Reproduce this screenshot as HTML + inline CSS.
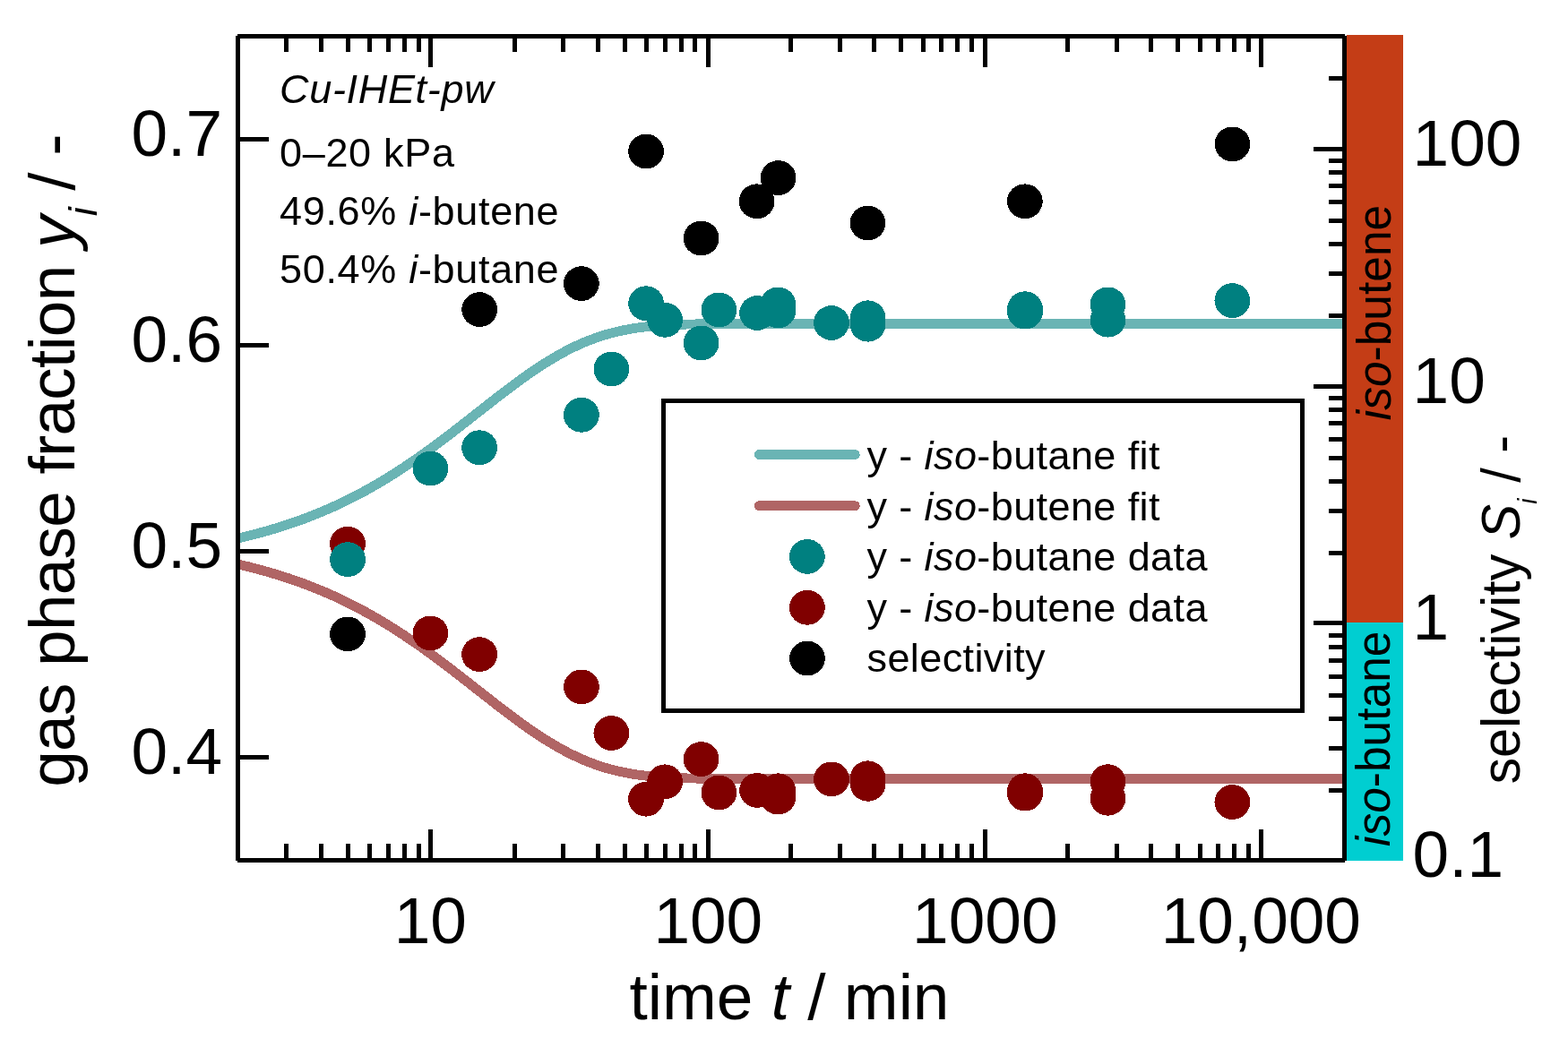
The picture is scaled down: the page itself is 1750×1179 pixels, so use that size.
<!DOCTYPE html>
<html lang="en">
<head>
<meta charset="utf-8">
<title>Cu-IHEt-pw gas phase fraction and selectivity over time</title>
<style>
html,body{margin:0;padding:0;background:#fff;}
body{width:1750px;height:1179px;overflow:hidden;}
svg{display:block;}
text{font-family:"Liberation Sans",sans-serif;fill:#000;white-space:pre;}
</style>
</head>
<body>
<svg width="1750" height="1179" viewBox="0 0 1750 1179" role="img" aria-label="Gas phase fraction and selectivity versus time for Cu-IHEt-pw">
<defs><clipPath id="plot"><rect x="265.5" y="40" width="1235" height="921"/></clipPath></defs>
<rect x="0" y="0" width="1750" height="1179" fill="#fff"/>
<g shape-rendering="crispEdges">
<rect x="1503" y="39" width="63" height="656" fill="#C43D16"/>
<rect x="1503" y="695" width="63" height="266" fill="#00CED1"/>
</g>
<g fill="none" stroke-width="10.8" stroke-linecap="butt" stroke-linejoin="round" clip-path="url(#plot)" shape-rendering="crispEdges">
<path d="M265.5,601.03 L268.6,600.32 L271.7,599.59 L274.8,598.85 L277.9,598.09 L280.9,597.31 L284.0,596.52 L287.1,595.71 L290.2,594.88 L293.3,594.04 L296.4,593.18 L299.5,592.30 L302.6,591.40 L305.6,590.48 L308.7,589.55 L311.8,588.59 L314.9,587.62 L318.0,586.62 L321.1,585.61 L324.2,584.57 L327.2,583.52 L330.3,582.44 L333.4,581.35 L336.5,580.23 L339.6,579.09 L342.7,577.92 L345.8,576.74 L348.9,575.53 L351.9,574.30 L355.0,573.05 L358.1,571.77 L361.2,570.47 L364.3,569.15 L367.4,567.80 L370.5,566.43 L373.6,565.03 L376.6,563.61 L379.7,562.16 L382.8,560.69 L385.9,559.19 L389.0,557.67 L392.1,556.12 L395.2,554.55 L398.3,552.95 L401.4,551.33 L404.4,549.67 L407.5,548.00 L410.6,546.30 L413.7,544.57 L416.8,542.81 L419.9,541.03 L423.0,539.22 L426.1,537.39 L429.1,535.53 L432.2,533.65 L435.3,531.74 L438.4,529.81 L441.5,527.85 L444.6,525.86 L447.7,523.85 L450.8,521.82 L453.8,519.76 L456.9,517.68 L460.0,515.58 L463.1,513.45 L466.2,511.30 L469.3,509.13 L472.4,506.94 L475.4,504.73 L478.5,502.50 L481.6,500.25 L484.7,497.98 L487.8,495.69 L490.9,493.39 L494.0,491.07 L497.1,488.73 L500.1,486.38 L503.2,484.02 L506.3,481.65 L509.4,479.26 L512.5,476.87 L515.6,474.46 L518.7,472.05 L521.8,469.64 L524.9,467.21 L527.9,464.79 L531.0,462.36 L534.1,459.93 L537.2,457.50 L540.3,455.08 L543.4,452.65 L546.5,450.24 L549.5,447.83 L552.6,445.42 L555.7,443.03 L558.8,440.65 L561.9,438.28 L565.0,435.93 L568.1,433.60 L571.2,431.28 L574.2,428.98 L577.3,426.71 L580.4,424.45 L583.5,422.23 L586.6,420.03 L589.7,417.85 L592.8,415.71 L595.9,413.60 L599.0,411.52 L602.0,409.48 L605.1,407.48 L608.2,405.51 L611.3,403.58 L614.4,401.69 L617.5,399.84 L620.6,398.03 L623.6,396.27 L626.7,394.56 L629.8,392.88 L632.9,391.26 L636.0,389.68 L639.1,388.15 L642.2,386.67 L645.3,385.24 L648.4,383.86 L651.4,382.53 L654.5,381.24 L657.6,380.01 L660.7,378.83 L663.8,377.69 L666.9,376.61 L670.0,375.58 L673.0,374.59 L676.1,373.65 L679.2,372.76 L682.3,371.91 L685.4,371.12 L688.5,370.36 L691.6,369.65 L694.7,368.98 L697.8,368.35 L700.8,367.77 L703.9,367.22 L707.0,366.71 L710.1,366.23 L713.2,365.79 L716.3,365.38 L719.4,365.00 L722.5,364.66 L725.5,364.34 L728.6,364.05 L731.7,363.78 L734.8,363.54 L737.9,363.32 L741.0,363.12 L744.1,362.94 L747.1,362.77 L750.2,362.63 L753.3,362.50 L756.4,362.38 L759.5,362.28 L762.6,362.19 L765.7,362.11 L768.8,362.04 L771.9,361.98 L774.9,361.93 L778.0,361.88 L781.1,361.84 L784.2,361.80 L787.3,361.77 L790.4,361.75 L793.5,361.73 L796.5,361.71 L799.6,361.69 L802.7,361.68 L805.8,361.67 L808.9,361.66 L812.0,361.66 L815.1,361.65 L818.2,361.64 L821.2,361.64 L824.3,361.64 L827.4,361.63 L830.5,361.63 L833.6,361.63 L836.7,361.63 L839.8,361.63 L842.9,361.63 L846.0,361.63 L849.0,361.63 L852.1,361.63 L855.2,361.63 L858.3,361.63 L861.4,361.63 L864.5,361.63 L867.6,361.63 L870.6,361.63 L873.7,361.63 L876.8,361.63 L879.9,361.63 L883.0,361.63 L886.1,361.63 L889.2,361.63 L892.3,361.63 L895.4,361.63 L898.4,361.63 L901.5,361.63 L904.6,361.63 L907.7,361.63 L910.8,361.63 L913.9,361.63 L917.0,361.63 L920.0,361.63 L923.1,361.63 L926.2,361.63 L929.3,361.63 L932.4,361.63 L935.5,361.63 L938.6,361.63 L941.7,361.63 L944.8,361.63 L947.8,361.63 L950.9,361.63 L954.0,361.63 L957.1,361.63 L960.2,361.63 L963.3,361.63 L966.4,361.63 L969.5,361.63 L972.5,361.63 L975.6,361.63 L978.7,361.63 L981.8,361.63 L984.9,361.63 L988.0,361.63 L991.1,361.63 L994.1,361.63 L997.2,361.63 L1000.3,361.63 L1003.4,361.63 L1006.5,361.63 L1009.6,361.63 L1012.7,361.63 L1015.8,361.63 L1018.9,361.63 L1021.9,361.63 L1025.0,361.63 L1028.1,361.63 L1031.2,361.63 L1034.3,361.63 L1037.4,361.63 L1040.5,361.63 L1043.5,361.63 L1046.6,361.63 L1049.7,361.63 L1052.8,361.63 L1055.9,361.63 L1059.0,361.63 L1062.1,361.63 L1065.2,361.63 L1068.2,361.63 L1071.3,361.63 L1074.4,361.63 L1077.5,361.63 L1080.6,361.63 L1083.7,361.63 L1086.8,361.63 L1089.9,361.63 L1093.0,361.63 L1096.0,361.63 L1099.1,361.63 L1102.2,361.63 L1105.3,361.63 L1108.4,361.63 L1111.5,361.63 L1114.6,361.63 L1117.7,361.63 L1120.7,361.63 L1123.8,361.63 L1126.9,361.63 L1130.0,361.63 L1133.1,361.63 L1136.2,361.63 L1139.3,361.63 L1142.3,361.63 L1145.4,361.63 L1148.5,361.63 L1151.6,361.63 L1154.7,361.63 L1157.8,361.63 L1160.9,361.63 L1164.0,361.63 L1167.0,361.63 L1170.1,361.63 L1173.2,361.63 L1176.3,361.63 L1179.4,361.63 L1182.5,361.63 L1185.6,361.63 L1188.7,361.63 L1191.8,361.63 L1194.8,361.63 L1197.9,361.63 L1201.0,361.63 L1204.1,361.63 L1207.2,361.63 L1210.3,361.63 L1213.4,361.63 L1216.5,361.63 L1219.5,361.63 L1222.6,361.63 L1225.7,361.63 L1228.8,361.63 L1231.9,361.63 L1235.0,361.63 L1238.1,361.63 L1241.2,361.63 L1244.2,361.63 L1247.3,361.63 L1250.4,361.63 L1253.5,361.63 L1256.6,361.63 L1259.7,361.63 L1262.8,361.63 L1265.8,361.63 L1268.9,361.63 L1272.0,361.63 L1275.1,361.63 L1278.2,361.63 L1281.3,361.63 L1284.4,361.63 L1287.5,361.63 L1290.5,361.63 L1293.6,361.63 L1296.7,361.63 L1299.8,361.63 L1302.9,361.63 L1306.0,361.63 L1309.1,361.63 L1312.2,361.63 L1315.2,361.63 L1318.3,361.63 L1321.4,361.63 L1324.5,361.63 L1327.6,361.63 L1330.7,361.63 L1333.8,361.63 L1336.9,361.63 L1340.0,361.63 L1343.0,361.63 L1346.1,361.63 L1349.2,361.63 L1352.3,361.63 L1355.4,361.63 L1358.5,361.63 L1361.6,361.63 L1364.7,361.63 L1367.7,361.63 L1370.8,361.63 L1373.9,361.63 L1377.0,361.63 L1380.1,361.63 L1383.2,361.63 L1386.3,361.63 L1389.3,361.63 L1392.4,361.63 L1395.5,361.63 L1398.6,361.63 L1401.7,361.63 L1404.8,361.63 L1407.9,361.63 L1411.0,361.63 L1414.0,361.63 L1417.1,361.63 L1420.2,361.63 L1423.3,361.63 L1426.4,361.63 L1429.5,361.63 L1432.6,361.63 L1435.7,361.63 L1438.8,361.63 L1441.8,361.63 L1444.9,361.63 L1448.0,361.63 L1451.1,361.63 L1454.2,361.63 L1457.3,361.63 L1460.4,361.63 L1463.5,361.63 L1466.5,361.63 L1469.6,361.63 L1472.7,361.63 L1475.8,361.63 L1478.9,361.63 L1482.0,361.63 L1485.1,361.63 L1488.2,361.63 L1491.2,361.63 L1494.3,361.63 L1497.4,361.63 L1500.5,361.63" stroke="#6AB4B4"/>
<path d="M265.5,629.97 L268.6,630.68 L271.7,631.41 L274.8,632.15 L277.9,632.91 L280.9,633.69 L284.0,634.48 L287.1,635.29 L290.2,636.12 L293.3,636.96 L296.4,637.82 L299.5,638.70 L302.6,639.60 L305.6,640.52 L308.7,641.45 L311.8,642.41 L314.9,643.38 L318.0,644.38 L321.1,645.39 L324.2,646.43 L327.2,647.48 L330.3,648.56 L333.4,649.65 L336.5,650.77 L339.6,651.91 L342.7,653.08 L345.8,654.26 L348.9,655.47 L351.9,656.70 L355.0,657.95 L358.1,659.23 L361.2,660.53 L364.3,661.85 L367.4,663.20 L370.5,664.57 L373.6,665.97 L376.6,667.39 L379.7,668.84 L382.8,670.31 L385.9,671.81 L389.0,673.33 L392.1,674.88 L395.2,676.45 L398.3,678.05 L401.4,679.67 L404.4,681.33 L407.5,683.00 L410.6,684.70 L413.7,686.43 L416.8,688.19 L419.9,689.97 L423.0,691.78 L426.1,693.61 L429.1,695.47 L432.2,697.35 L435.3,699.26 L438.4,701.19 L441.5,703.15 L444.6,705.14 L447.7,707.15 L450.8,709.18 L453.8,711.24 L456.9,713.32 L460.0,715.42 L463.1,717.55 L466.2,719.70 L469.3,721.87 L472.4,724.06 L475.4,726.27 L478.5,728.50 L481.6,730.75 L484.7,733.02 L487.8,735.31 L490.9,737.61 L494.0,739.93 L497.1,742.27 L500.1,744.62 L503.2,746.98 L506.3,749.35 L509.4,751.74 L512.5,754.13 L515.6,756.54 L518.7,758.95 L521.8,761.36 L524.9,763.79 L527.9,766.21 L531.0,768.64 L534.1,771.07 L537.2,773.50 L540.3,775.92 L543.4,778.35 L546.5,780.76 L549.5,783.17 L552.6,785.58 L555.7,787.97 L558.8,790.35 L561.9,792.72 L565.0,795.07 L568.1,797.40 L571.2,799.72 L574.2,802.02 L577.3,804.29 L580.4,806.55 L583.5,808.77 L586.6,810.97 L589.7,813.15 L592.8,815.29 L595.9,817.40 L599.0,819.48 L602.0,821.52 L605.1,823.52 L608.2,825.49 L611.3,827.42 L614.4,829.31 L617.5,831.16 L620.6,832.97 L623.6,834.73 L626.7,836.44 L629.8,838.12 L632.9,839.74 L636.0,841.32 L639.1,842.85 L642.2,844.33 L645.3,845.76 L648.4,847.14 L651.4,848.47 L654.5,849.76 L657.6,850.99 L660.7,852.17 L663.8,853.31 L666.9,854.39 L670.0,855.42 L673.0,856.41 L676.1,857.35 L679.2,858.24 L682.3,859.09 L685.4,859.88 L688.5,860.64 L691.6,861.35 L694.7,862.02 L697.8,862.65 L700.8,863.23 L703.9,863.78 L707.0,864.29 L710.1,864.77 L713.2,865.21 L716.3,865.62 L719.4,866.00 L722.5,866.34 L725.5,866.66 L728.6,866.95 L731.7,867.22 L734.8,867.46 L737.9,867.68 L741.0,867.88 L744.1,868.06 L747.1,868.23 L750.2,868.37 L753.3,868.50 L756.4,868.62 L759.5,868.72 L762.6,868.81 L765.7,868.89 L768.8,868.96 L771.9,869.02 L774.9,869.07 L778.0,869.12 L781.1,869.16 L784.2,869.20 L787.3,869.23 L790.4,869.25 L793.5,869.27 L796.5,869.29 L799.6,869.31 L802.7,869.32 L805.8,869.33 L808.9,869.34 L812.0,869.34 L815.1,869.35 L818.2,869.36 L821.2,869.36 L824.3,869.36 L827.4,869.37 L830.5,869.37 L833.6,869.37 L836.7,869.37 L839.8,869.37 L842.9,869.37 L846.0,869.37 L849.0,869.37 L852.1,869.37 L855.2,869.37 L858.3,869.37 L861.4,869.37 L864.5,869.37 L867.6,869.37 L870.6,869.37 L873.7,869.37 L876.8,869.37 L879.9,869.37 L883.0,869.37 L886.1,869.37 L889.2,869.37 L892.3,869.37 L895.4,869.37 L898.4,869.37 L901.5,869.37 L904.6,869.37 L907.7,869.37 L910.8,869.37 L913.9,869.37 L917.0,869.37 L920.0,869.37 L923.1,869.37 L926.2,869.37 L929.3,869.37 L932.4,869.37 L935.5,869.37 L938.6,869.37 L941.7,869.37 L944.8,869.37 L947.8,869.37 L950.9,869.37 L954.0,869.37 L957.1,869.37 L960.2,869.37 L963.3,869.37 L966.4,869.37 L969.5,869.37 L972.5,869.37 L975.6,869.37 L978.7,869.37 L981.8,869.37 L984.9,869.37 L988.0,869.37 L991.1,869.37 L994.1,869.37 L997.2,869.37 L1000.3,869.37 L1003.4,869.37 L1006.5,869.37 L1009.6,869.37 L1012.7,869.37 L1015.8,869.37 L1018.9,869.37 L1021.9,869.37 L1025.0,869.37 L1028.1,869.37 L1031.2,869.37 L1034.3,869.37 L1037.4,869.37 L1040.5,869.37 L1043.5,869.37 L1046.6,869.37 L1049.7,869.37 L1052.8,869.37 L1055.9,869.37 L1059.0,869.37 L1062.1,869.37 L1065.2,869.37 L1068.2,869.37 L1071.3,869.37 L1074.4,869.37 L1077.5,869.37 L1080.6,869.37 L1083.7,869.37 L1086.8,869.37 L1089.9,869.37 L1093.0,869.37 L1096.0,869.37 L1099.1,869.37 L1102.2,869.37 L1105.3,869.37 L1108.4,869.37 L1111.5,869.37 L1114.6,869.37 L1117.7,869.37 L1120.7,869.37 L1123.8,869.37 L1126.9,869.37 L1130.0,869.37 L1133.1,869.37 L1136.2,869.37 L1139.3,869.37 L1142.3,869.37 L1145.4,869.37 L1148.5,869.37 L1151.6,869.37 L1154.7,869.37 L1157.8,869.37 L1160.9,869.37 L1164.0,869.37 L1167.0,869.37 L1170.1,869.37 L1173.2,869.37 L1176.3,869.37 L1179.4,869.37 L1182.5,869.37 L1185.6,869.37 L1188.7,869.37 L1191.8,869.37 L1194.8,869.37 L1197.9,869.37 L1201.0,869.37 L1204.1,869.37 L1207.2,869.37 L1210.3,869.37 L1213.4,869.37 L1216.5,869.37 L1219.5,869.37 L1222.6,869.37 L1225.7,869.37 L1228.8,869.37 L1231.9,869.37 L1235.0,869.37 L1238.1,869.37 L1241.2,869.37 L1244.2,869.37 L1247.3,869.37 L1250.4,869.37 L1253.5,869.37 L1256.6,869.37 L1259.7,869.37 L1262.8,869.37 L1265.8,869.37 L1268.9,869.37 L1272.0,869.37 L1275.1,869.37 L1278.2,869.37 L1281.3,869.37 L1284.4,869.37 L1287.5,869.37 L1290.5,869.37 L1293.6,869.37 L1296.7,869.37 L1299.8,869.37 L1302.9,869.37 L1306.0,869.37 L1309.1,869.37 L1312.2,869.37 L1315.2,869.37 L1318.3,869.37 L1321.4,869.37 L1324.5,869.37 L1327.6,869.37 L1330.7,869.37 L1333.8,869.37 L1336.9,869.37 L1340.0,869.37 L1343.0,869.37 L1346.1,869.37 L1349.2,869.37 L1352.3,869.37 L1355.4,869.37 L1358.5,869.37 L1361.6,869.37 L1364.7,869.37 L1367.7,869.37 L1370.8,869.37 L1373.9,869.37 L1377.0,869.37 L1380.1,869.37 L1383.2,869.37 L1386.3,869.37 L1389.3,869.37 L1392.4,869.37 L1395.5,869.37 L1398.6,869.37 L1401.7,869.37 L1404.8,869.37 L1407.9,869.37 L1411.0,869.37 L1414.0,869.37 L1417.1,869.37 L1420.2,869.37 L1423.3,869.37 L1426.4,869.37 L1429.5,869.37 L1432.6,869.37 L1435.7,869.37 L1438.8,869.37 L1441.8,869.37 L1444.9,869.37 L1448.0,869.37 L1451.1,869.37 L1454.2,869.37 L1457.3,869.37 L1460.4,869.37 L1463.5,869.37 L1466.5,869.37 L1469.6,869.37 L1472.7,869.37 L1475.8,869.37 L1478.9,869.37 L1482.0,869.37 L1485.1,869.37 L1488.2,869.37 L1491.2,869.37 L1494.3,869.37 L1497.4,869.37 L1500.5,869.37" stroke="#B06565"/>
</g>
<g fill="#000" shape-rendering="crispEdges">
<ellipse cx="388.05" cy="707.9" rx="19.9" ry="19.4"/>
<ellipse cx="535.2" cy="345.6" rx="19.9" ry="19.4"/>
<ellipse cx="648.9" cy="316.6" rx="19.9" ry="19.4"/>
<ellipse cx="721.1" cy="169" rx="19.9" ry="19.4"/>
<ellipse cx="782.6" cy="266" rx="19.9" ry="19.4"/>
<ellipse cx="844.6" cy="224.8" rx="19.9" ry="19.4"/>
<ellipse cx="868.6" cy="198.6" rx="19.9" ry="19.4"/>
<ellipse cx="968.5" cy="249" rx="19.9" ry="19.4"/>
<ellipse cx="1143.8" cy="224.8" rx="19.9" ry="19.4"/>
<ellipse cx="1375.5" cy="160.9" rx="19.9" ry="19.4"/>
</g>
<g fill="#800000" shape-rendering="crispEdges">
<ellipse cx="388.05" cy="607.1" rx="19.9" ry="19.4"/>
<ellipse cx="480.4" cy="706.9" rx="19.9" ry="19.4"/>
<ellipse cx="535.1" cy="730.6" rx="19.9" ry="19.4"/>
<ellipse cx="648.9" cy="766.9" rx="19.9" ry="19.4"/>
<ellipse cx="682.4" cy="818.5" rx="19.9" ry="19.4"/>
<ellipse cx="721" cy="892.2" rx="19.9" ry="19.4"/>
<ellipse cx="742.1" cy="872.8" rx="19.9" ry="19.4"/>
<ellipse cx="782.6" cy="847.6" rx="19.9" ry="19.4"/>
<ellipse cx="802.4" cy="884.9" rx="19.9" ry="19.4"/>
<ellipse cx="845.1" cy="882.4" rx="19.9" ry="19.4"/>
<ellipse cx="868.4" cy="882.8" rx="19.9" ry="19.4"/>
<ellipse cx="868.4" cy="890.1" rx="19.9" ry="19.4"/>
<ellipse cx="928" cy="869.9" rx="19.9" ry="19.4"/>
<ellipse cx="968.6" cy="868.8" rx="19.9" ry="19.4"/>
<ellipse cx="968.6" cy="875.3" rx="19.9" ry="19.4"/>
<ellipse cx="1144" cy="882.7" rx="19.9" ry="19.4"/>
<ellipse cx="1144" cy="886.1" rx="19.9" ry="19.4"/>
<ellipse cx="1236.5" cy="872.7" rx="19.9" ry="19.4"/>
<ellipse cx="1236.5" cy="891.3" rx="19.9" ry="19.4"/>
<ellipse cx="1375.4" cy="895.5" rx="19.9" ry="19.4"/>
</g>
<g fill="#008080" shape-rendering="crispEdges">
<ellipse cx="388.05" cy="624.6" rx="19.9" ry="19.4"/>
<ellipse cx="480.4" cy="523.05" rx="19.9" ry="19.4"/>
<ellipse cx="535.1" cy="499.7" rx="19.9" ry="19.4"/>
<ellipse cx="648.9" cy="463.3" rx="19.9" ry="19.4"/>
<ellipse cx="682.4" cy="412" rx="19.9" ry="19.4"/>
<ellipse cx="721.1" cy="338.7" rx="19.9" ry="19.4"/>
<ellipse cx="742.1" cy="357.3" rx="19.9" ry="19.4"/>
<ellipse cx="782.6" cy="382.9" rx="19.9" ry="19.4"/>
<ellipse cx="802.4" cy="345.9" rx="19.9" ry="19.4"/>
<ellipse cx="845.1" cy="349.5" rx="19.9" ry="19.4"/>
<ellipse cx="868.4" cy="339.9" rx="19.9" ry="19.4"/>
<ellipse cx="868.4" cy="347" rx="19.9" ry="19.4"/>
<ellipse cx="928" cy="360.5" rx="19.9" ry="19.4"/>
<ellipse cx="968.6" cy="354.8" rx="19.9" ry="19.4"/>
<ellipse cx="968.6" cy="362.2" rx="19.9" ry="19.4"/>
<ellipse cx="1144" cy="344.7" rx="19.9" ry="19.4"/>
<ellipse cx="1144" cy="348.1" rx="19.9" ry="19.4"/>
<ellipse cx="1236.5" cy="339.9" rx="19.9" ry="19.4"/>
<ellipse cx="1236.5" cy="357.2" rx="19.9" ry="19.4"/>
<ellipse cx="1375.4" cy="335.6" rx="19.9" ry="19.4"/>
</g>
<g shape-rendering="crispEdges">
<rect x="263" y="40" width="5" height="921" fill="#000"/>
<rect x="1498" y="40" width="5" height="921" fill="#000"/>
<rect x="265" y="38" width="1236" height="5" fill="#000"/>
<rect x="265" y="958" width="1236" height="5" fill="#000"/>
<rect x="317" y="40" width="5" height="18" fill="#000"/>
<rect x="317" y="942" width="5" height="19" fill="#000"/>
<rect x="356" y="40" width="5" height="18" fill="#000"/>
<rect x="356" y="942" width="5" height="19" fill="#000"/>
<rect x="386" y="40" width="5" height="18" fill="#000"/>
<rect x="386" y="942" width="5" height="19" fill="#000"/>
<rect x="410" y="40" width="5" height="18" fill="#000"/>
<rect x="410" y="942" width="5" height="19" fill="#000"/>
<rect x="431" y="40" width="5" height="18" fill="#000"/>
<rect x="431" y="942" width="5" height="19" fill="#000"/>
<rect x="449" y="40" width="5" height="18" fill="#000"/>
<rect x="449" y="942" width="5" height="19" fill="#000"/>
<rect x="465" y="40" width="5" height="18" fill="#000"/>
<rect x="465" y="942" width="5" height="19" fill="#000"/>
<rect x="478" y="40" width="5" height="35" fill="#000"/>
<rect x="478" y="926" width="5" height="35" fill="#000"/>
<rect x="572" y="40" width="5" height="18" fill="#000"/>
<rect x="572" y="942" width="5" height="19" fill="#000"/>
<rect x="626" y="40" width="5" height="18" fill="#000"/>
<rect x="626" y="942" width="5" height="19" fill="#000"/>
<rect x="665" y="40" width="5" height="18" fill="#000"/>
<rect x="665" y="942" width="5" height="19" fill="#000"/>
<rect x="695" y="40" width="5" height="18" fill="#000"/>
<rect x="695" y="942" width="5" height="19" fill="#000"/>
<rect x="719" y="40" width="5" height="18" fill="#000"/>
<rect x="719" y="942" width="5" height="19" fill="#000"/>
<rect x="740" y="40" width="5" height="18" fill="#000"/>
<rect x="740" y="942" width="5" height="19" fill="#000"/>
<rect x="758" y="40" width="5" height="18" fill="#000"/>
<rect x="758" y="942" width="5" height="19" fill="#000"/>
<rect x="773" y="40" width="5" height="18" fill="#000"/>
<rect x="773" y="942" width="5" height="19" fill="#000"/>
<rect x="788" y="40" width="5" height="35" fill="#000"/>
<rect x="788" y="926" width="5" height="35" fill="#000"/>
<rect x="880" y="40" width="5" height="18" fill="#000"/>
<rect x="880" y="942" width="5" height="19" fill="#000"/>
<rect x="935" y="40" width="5" height="18" fill="#000"/>
<rect x="935" y="942" width="5" height="19" fill="#000"/>
<rect x="973" y="40" width="5" height="18" fill="#000"/>
<rect x="973" y="942" width="5" height="19" fill="#000"/>
<rect x="1003" y="40" width="5" height="18" fill="#000"/>
<rect x="1003" y="942" width="5" height="19" fill="#000"/>
<rect x="1028" y="40" width="5" height="18" fill="#000"/>
<rect x="1028" y="942" width="5" height="19" fill="#000"/>
<rect x="1048" y="40" width="5" height="18" fill="#000"/>
<rect x="1048" y="942" width="5" height="19" fill="#000"/>
<rect x="1066" y="40" width="5" height="18" fill="#000"/>
<rect x="1066" y="942" width="5" height="19" fill="#000"/>
<rect x="1082" y="40" width="5" height="18" fill="#000"/>
<rect x="1082" y="942" width="5" height="19" fill="#000"/>
<rect x="1097" y="40" width="5" height="35" fill="#000"/>
<rect x="1097" y="926" width="5" height="35" fill="#000"/>
<rect x="1189" y="40" width="5" height="18" fill="#000"/>
<rect x="1189" y="942" width="5" height="19" fill="#000"/>
<rect x="1244" y="40" width="5" height="18" fill="#000"/>
<rect x="1244" y="942" width="5" height="19" fill="#000"/>
<rect x="1282" y="40" width="5" height="18" fill="#000"/>
<rect x="1282" y="942" width="5" height="19" fill="#000"/>
<rect x="1312" y="40" width="5" height="18" fill="#000"/>
<rect x="1312" y="942" width="5" height="19" fill="#000"/>
<rect x="1337" y="40" width="5" height="18" fill="#000"/>
<rect x="1337" y="942" width="5" height="19" fill="#000"/>
<rect x="1357" y="40" width="5" height="18" fill="#000"/>
<rect x="1357" y="942" width="5" height="19" fill="#000"/>
<rect x="1375" y="40" width="5" height="18" fill="#000"/>
<rect x="1375" y="942" width="5" height="19" fill="#000"/>
<rect x="1391" y="40" width="5" height="18" fill="#000"/>
<rect x="1391" y="942" width="5" height="19" fill="#000"/>
<rect x="1405" y="40" width="5" height="35" fill="#000"/>
<rect x="1405" y="926" width="5" height="35" fill="#000"/>
<rect x="265" y="843" width="35" height="5" fill="#000"/>
<rect x="265" y="613" width="35" height="5" fill="#000"/>
<rect x="265" y="383" width="35" height="5" fill="#000"/>
<rect x="265" y="153" width="35" height="5" fill="#000"/>
<rect x="1483" y="880" width="18" height="5" fill="#000"/>
<rect x="1483" y="833" width="18" height="5" fill="#000"/>
<rect x="1483" y="800" width="18" height="5" fill="#000"/>
<rect x="1483" y="774" width="18" height="5" fill="#000"/>
<rect x="1483" y="753" width="18" height="5" fill="#000"/>
<rect x="1483" y="735" width="18" height="5" fill="#000"/>
<rect x="1483" y="720" width="18" height="5" fill="#000"/>
<rect x="1483" y="707" width="18" height="5" fill="#000"/>
<rect x="1466" y="693" width="35" height="5" fill="#000"/>
<rect x="1483" y="615" width="18" height="5" fill="#000"/>
<rect x="1483" y="568" width="18" height="5" fill="#000"/>
<rect x="1483" y="535" width="18" height="5" fill="#000"/>
<rect x="1483" y="509" width="18" height="5" fill="#000"/>
<rect x="1483" y="488" width="18" height="5" fill="#000"/>
<rect x="1483" y="470" width="18" height="5" fill="#000"/>
<rect x="1483" y="455" width="18" height="5" fill="#000"/>
<rect x="1483" y="442" width="18" height="5" fill="#000"/>
<rect x="1466" y="429" width="35" height="5" fill="#000"/>
<rect x="1483" y="350" width="18" height="5" fill="#000"/>
<rect x="1483" y="303" width="18" height="5" fill="#000"/>
<rect x="1483" y="270" width="18" height="5" fill="#000"/>
<rect x="1483" y="244" width="18" height="5" fill="#000"/>
<rect x="1483" y="223" width="18" height="5" fill="#000"/>
<rect x="1483" y="205" width="18" height="5" fill="#000"/>
<rect x="1483" y="190" width="18" height="5" fill="#000"/>
<rect x="1483" y="177" width="18" height="5" fill="#000"/>
<rect x="1466" y="164" width="35" height="5" fill="#000"/>
<rect x="1483" y="85" width="18" height="5" fill="#000"/>
<rect x="738" y="445" width="718" height="5" fill="#000"/>
<rect x="738" y="791" width="718" height="5" fill="#000"/>
<rect x="738" y="445" width="5" height="351" fill="#000"/>
<rect x="1451" y="445" width="5" height="351" fill="#000"/>
</g>
<line x1="847.2" x2="954.3" y1="507.5" y2="507.5" stroke="#6AB4B4" stroke-width="10.8" stroke-linecap="round" shape-rendering="crispEdges"/>
<line x1="847.2" x2="954.3" y1="564.7" y2="564.7" stroke="#B06565" stroke-width="10.8" stroke-linecap="round" shape-rendering="crispEdges"/>
<ellipse cx="900.9" cy="621.4" rx="19.9" ry="19.4" fill="#008080" shape-rendering="crispEdges"/>
<ellipse cx="900.9" cy="678.3" rx="19.9" ry="19.4" fill="#800000" shape-rendering="crispEdges"/>
<ellipse cx="900.9" cy="735.0" rx="19.9" ry="19.4" fill="#000" shape-rendering="crispEdges"/>
<text x="248" y="174" font-size="73" text-anchor="end">0.7</text>
<text x="248" y="404" font-size="73" text-anchor="end">0.6</text>
<text x="248" y="634" font-size="73" text-anchor="end">0.5</text>
<text x="248" y="864" font-size="73" text-anchor="end">0.4</text>
<text x="480.3" y="1053" font-size="73" text-anchor="middle">10</text>
<text x="790.3" y="1053" font-size="73" text-anchor="middle">100</text>
<text x="1099.3" y="1053" font-size="73" text-anchor="middle">1000</text>
<text x="1407.3" y="1053" font-size="73" text-anchor="middle">10,000</text>
<text x="1576.6" y="185" font-size="73" text-anchor="start">100</text>
<text x="1576.6" y="450" font-size="73" text-anchor="start">10</text>
<text x="1576.6" y="714" font-size="73" text-anchor="start">1</text>
<text x="1576.6" y="979.2" font-size="73" text-anchor="start">0.1</text>
<text x="881" y="1137.7" font-size="73" text-anchor="middle">time <tspan font-style="italic">t</tspan> / min</text>
<text transform="translate(82.6 878.7) rotate(-90)" font-size="73" text-anchor="start" letter-spacing="-0.8">gas phase fraction <tspan font-style="italic">y</tspan><tspan font-style="italic" font-size="45" dy="25.5">i</tspan><tspan dy="-25.5" dx="0"> / -</tspan></text>
<text transform="translate(1696.3 875.6) rotate(-90) scale(1 1.035)" font-size="59.5" text-anchor="start" letter-spacing="-0.1">selectivity <tspan font-style="italic">S</tspan><tspan font-style="italic" font-size="28" dy="18">i</tspan><tspan dy="-18" dx="1.5"> / -</tspan></text>
<text transform="translate(1552 469.3) rotate(-90) scale(1 1.04)" font-size="51.5" text-anchor="start"><tspan font-style="italic">iso</tspan>-butene</text>
<text transform="translate(1550.5 945) rotate(-90) scale(1 1.04)" font-size="51.5" text-anchor="start"><tspan font-style="italic">iso</tspan>-butane</text>
<text x="312" y="115" font-size="45" text-anchor="start" letter-spacing="0.68"><tspan font-style="italic">Cu-IHEt-pw</tspan></text>
<text x="312" y="186" font-size="45" text-anchor="start" letter-spacing="0.68">0–20 kPa</text>
<text x="312" y="250.6" font-size="45" text-anchor="start" letter-spacing="0.68">49.6% <tspan font-style="italic">i</tspan>-butene</text>
<text x="312" y="315.6" font-size="45" text-anchor="start" letter-spacing="0.68">50.4% <tspan font-style="italic">i</tspan>-butane</text>
<text x="967.5" y="524" font-size="45" text-anchor="start" letter-spacing="0.4">y - <tspan font-style="italic">iso</tspan>-butane fit</text>
<text x="967.5" y="581" font-size="45" text-anchor="start" letter-spacing="0.4">y - <tspan font-style="italic">iso</tspan>-butene fit</text>
<text x="967.5" y="637" font-size="45" text-anchor="start" letter-spacing="0.4">y - <tspan font-style="italic">iso</tspan>-butane data</text>
<text x="967.5" y="693.7" font-size="45" text-anchor="start" letter-spacing="0.4">y - <tspan font-style="italic">iso</tspan>-butene data</text>
<text x="967.5" y="750.2" font-size="45" text-anchor="start" letter-spacing="0.4">selectivity</text>
</svg>
</body>
</html>
